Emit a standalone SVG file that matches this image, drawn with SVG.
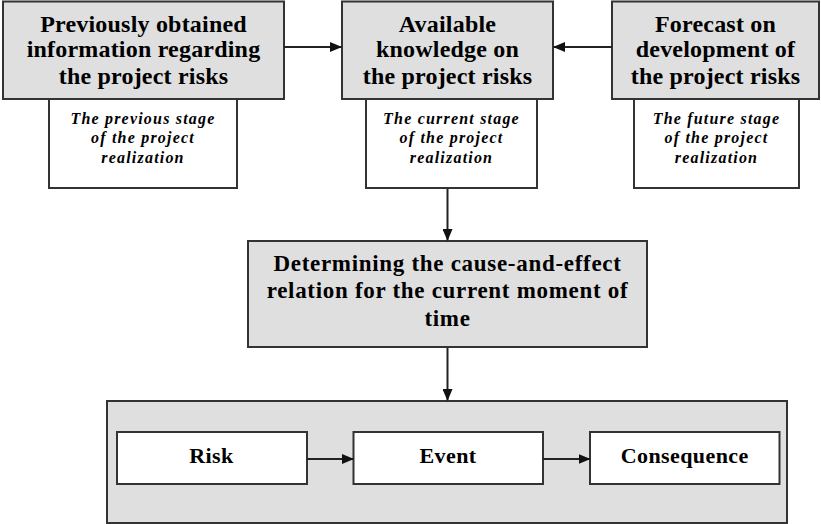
<svg xmlns="http://www.w3.org/2000/svg" width="821" height="524" viewBox="0 0 821 524">
  <style>
    .grey { fill: #dfdfdf; stroke: #333; stroke-width: 2; }
    .white { fill: #fff; stroke: #333; stroke-width: 2; }
    .head { font-family: "Liberation Serif", "Times New Roman", serif; font-weight: bold; font-size: 24px; letter-spacing: 0.2px; fill: #000; text-anchor: middle; }
    .note { font-family: "Liberation Serif", "Times New Roman", serif; font-weight: bold; font-style: italic; font-size: 16px; letter-spacing: 1.2px; fill: #000; text-anchor: middle; }
    .mid { font-family: "Liberation Serif", "Times New Roman", serif; font-weight: bold; font-size: 23px; letter-spacing: 0.7px; fill: #000; text-anchor: middle; }
    .chain { font-family: "Liberation Serif", "Times New Roman", serif; font-weight: bold; font-size: 22px; letter-spacing: 0.4px; fill: #000; text-anchor: middle; }
    .conn { stroke: #222; stroke-width: 2; fill: none; marker-end: url(#arrow); }
  </style>
  <defs>
    <marker id="arrow" markerWidth="12" markerHeight="10" refX="11" refY="5" orient="auto" markerUnits="userSpaceOnUse">
      <path d="M0,0 L12,5 L0,10 Z" fill="#111"/>
    </marker>
  </defs>

  <!-- stage note boxes (drawn first, headers sit over their top edges) -->
  <g id="note-previous">
    <rect class="white" x="49" y="95" width="188" height="93"/>
    <text class="note" x="143" y="124">The previous stage</text>
    <text class="note" x="143" y="143">of the project</text>
    <text class="note" x="143" y="163">realization</text>
  </g>
  <g id="note-current">
    <rect class="white" x="366" y="95" width="171" height="93"/>
    <text class="note" x="451.5" y="124">The current stage</text>
    <text class="note" x="451.5" y="143">of the project</text>
    <text class="note" x="451.5" y="163">realization</text>
  </g>
  <g id="note-future">
    <rect class="white" x="634" y="95" width="165" height="93"/>
    <text class="note" x="716.5" y="124">The future stage</text>
    <text class="note" x="716.5" y="143">of the project</text>
    <text class="note" x="716.5" y="163">realization</text>
  </g>

  <!-- header boxes -->
  <g id="previous-info">
    <rect class="grey" x="3" y="1.5" width="281" height="97.5"/>
    <text class="head" x="143.5" y="31.5">Previously obtained</text>
    <text class="head" x="143.5" y="57">information regarding</text>
    <text class="head" x="143.5" y="84">the project risks</text>
  </g>
  <g id="available-knowledge">
    <rect class="grey" x="342" y="1.5" width="211" height="97.5"/>
    <text class="head" x="447.5" y="31.5">Available</text>
    <text class="head" x="447.5" y="57">knowledge on</text>
    <text class="head" x="447.5" y="84">the project risks</text>
  </g>
  <g id="forecast">
    <rect class="grey" x="612" y="1.5" width="207" height="97.5"/>
    <text class="head" x="715.5" y="31.5">Forecast on</text>
    <text class="head" x="715.5" y="57">development of</text>
    <text class="head" x="715.5" y="84">the project risks</text>
  </g>

  <!-- cause-and-effect box -->
  <g id="cause-effect">
    <rect class="grey" x="248" y="241" width="399" height="106"/>
    <text class="mid" x="447.5" y="271">Determining the cause-and-effect</text>
    <text class="mid" x="447.5" y="298">relation for the current moment of</text>
    <text class="mid" x="447.5" y="325.5">time</text>
  </g>

  <!-- risk chain container -->
  <g id="chain-frame">
    <rect class="grey" x="107" y="401" width="680" height="122"/>
  </g>
  <g id="risk">
    <rect class="white" x="117" y="432" width="190" height="52"/>
    <text class="chain" x="211.5" y="462.5">Risk</text>
  </g>
  <g id="event">
    <rect class="white" x="353.5" y="432" width="189.5" height="52"/>
    <text class="chain" x="448" y="462.5">Event</text>
  </g>
  <g id="consequence">
    <rect class="white" x="590" y="432" width="189.5" height="52"/>
    <text class="chain" x="684.7" y="462.5">Consequence</text>
  </g>

  <!-- connectors -->
  <g id="connectors">
    <line class="conn" x1="284" y1="47" x2="341" y2="47"/>
    <line class="conn" x1="612" y1="47" x2="554" y2="47"/>
    <line class="conn" x1="447.5" y1="189" x2="447.5" y2="240"/>
    <line class="conn" x1="447.5" y1="348" x2="447.5" y2="400"/>
    <line class="conn" x1="307" y1="459" x2="353" y2="459"/>
    <line class="conn" x1="543" y1="459" x2="589.5" y2="459"/>
  </g>
</svg>
